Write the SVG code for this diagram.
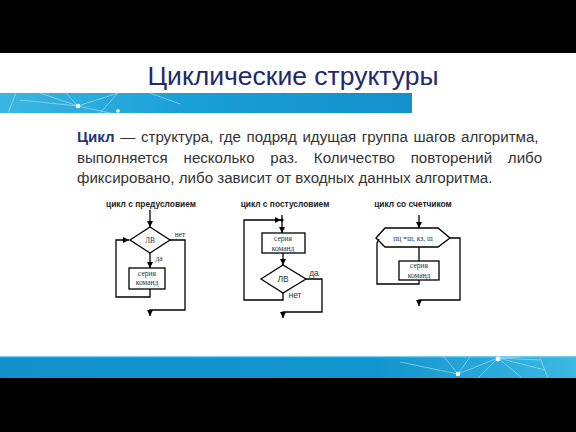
<svg xmlns="http://www.w3.org/2000/svg" width="576" height="432" viewBox="0 0 576 432">
<defs>
<linearGradient id="gTop" x1="0" y1="0" x2="1" y2="0">
<stop offset="0" stop-color="#3ab6e2"/>
<stop offset="0.45" stop-color="#1a9fd6"/>
<stop offset="1" stop-color="#1290cb"/>
</linearGradient>
<linearGradient id="gBot" x1="0" y1="0" x2="1" y2="0">
<stop offset="0" stop-color="#1290cb"/>
<stop offset="0.65" stop-color="#1194cd"/>
<stop offset="1" stop-color="#3cb8e3"/>
</linearGradient>
<marker id="ah" viewBox="0 0 10 10" refX="10" refY="5" markerWidth="6" markerHeight="6" markerUnits="userSpaceOnUse" orient="auto">
<path d="M0,0 L10,5 L0,10 Z" fill="#000"/>
</marker>
<style>
.lbl{font-family:"Liberation Sans",Arial,sans-serif;font-weight:bold;font-size:8.4px;fill:#222;text-anchor:middle}
.ser{font-family:"Liberation Serif","Times New Roman",serif;font-size:7.5px;fill:#333;text-anchor:middle}
.lv{font-family:"Liberation Sans",Arial,sans-serif;font-size:8.5px;fill:#333;text-anchor:middle}
.sh{fill:#fff;stroke:#000;stroke-width:1.3}
.ln{fill:none;stroke:#000;stroke-width:1.3}
.net{stroke:#bfe8f8;stroke-width:0.7;fill:none;opacity:0.8}
.para{font-family:"Liberation Sans",Arial,sans-serif;font-size:15.1px;fill:#333}
</style>
</defs>
<rect width="576" height="432" fill="#fff"/>
<rect x="0" y="0" width="576" height="53" fill="#000"/>
<rect x="0" y="378" width="576" height="54" fill="#000"/>

<!-- top band -->
<rect x="0" y="93" width="412" height="20" fill="url(#gTop)"/>
<g class="net">
<path d="M8,113 L16,93 M40,93 L78,106 L118,93 M78,106 L110,113 M66,93 L78,106 M118,93 L100,113 M150,93 L180,104 M20,100 L78,106"/>
</g>
<circle cx="78" cy="106" r="2.2" fill="#fff"/>
<circle cx="118" cy="111" r="1.8" fill="#fff"/>

<!-- bottom band -->
<rect x="0" y="356" width="576" height="22" fill="url(#gBot)"/>
<rect x="0" y="356" width="576" height="1.3" fill="#6fcdee"/>
<g class="net">
<path d="M400,362 L458,374 L498,358 L540,360 M444,357 L458,374 L470,357 M498,358 L478,378 M498,358 L522,378 M540,358 L548,378 M520,357 L498,358 M498,358 L545,370"/>
</g>
<circle cx="458" cy="374" r="2.2" fill="#fff"/>
<circle cx="498" cy="359" r="2.4" fill="#fff"/>

<!-- title -->
<text x="293" y="85" font-family="'Liberation Sans',Arial,sans-serif" font-size="26.5" fill="#1e2a6b" text-anchor="middle">Циклические структуры</text>

<!-- paragraph -->
<text class="para" x="77" y="142" word-spacing="1.4"><tspan font-weight="bold" fill="#1f3578">Цикл</tspan> — структура, где подряд идущая группа шагов алгоритма,</text>
<text class="para" x="77" y="163" word-spacing="11.6">выполняется несколько раз. Количество повторений либо</text>
<text class="para" x="77" y="183">фиксировано, либо зависит от входных данных алгоритма.</text>

<!-- diagram 1 -->
<text class="lbl" x="151" y="207">цикл с предусловием</text>
<g id="d1-cond">
<polygon class="sh" points="130,240 150,227 170,240 150,253"/>
<text class="ser" x="150" y="243" font-size="8.5">ЛВ</text>
</g>
<g id="d1-body">
<rect class="sh" x="129" y="268" width="36" height="21"/>
<text class="ser" x="147" y="276">серия</text>
<text class="ser" x="147" y="285">команд</text>
</g>
<text class="ser" x="180" y="237">нет</text>
<text class="ser" x="159" y="261">да</text>

<!-- diagram 2 -->
<text class="lbl" x="285" y="207">цикл с постусловием</text>
<g id="d2-body">
<rect class="sh" x="262" y="233" width="43" height="20"/>
<text class="ser" x="283" y="241">серия</text>
<text class="ser" x="283" y="251">команд</text>
</g>
<g id="d2-cond">
<polygon class="sh" points="261,279 283,265 306,279 283,293"/>
<text class="lv" x="283" y="282">ЛВ</text>
</g>
<text class="lv" x="314" y="276" font-size="7.5">да</text>
<text class="lv" x="295" y="298" font-size="7.5">нет</text>

<!-- diagram 3 -->
<text class="lbl" x="413" y="207">цикл со счетчиком</text>
<g id="d3-head">
<polygon class="sh" points="376,238 385,228 438,228 450,238 438,247 385,247"/>
<text class="ser" x="413" y="241" font-size="7">пц =ш, кз, ш</text>
</g>
<g id="d3-body">
<rect class="sh" x="399" y="261" width="40" height="19"/>
<text class="ser" x="419" y="268">серия</text>
<text class="ser" x="419" y="278">команд</text>
</g>

<!-- connectors -->
<g id="connectors">
<line class="ln" x1="150" y1="210" x2="150" y2="227" marker-end="url(#ah)"/>
<line class="ln" x1="150" y1="253" x2="150" y2="268" marker-end="url(#ah)"/>
<polyline class="ln" points="150,289 150,297 116,297 116,240 129,240" marker-end="url(#ah)"/>
<polyline class="ln" points="170,240 185,240 185,310 150,310 150,316" marker-end="url(#ah)"/>

<line class="ln" x1="282" y1="215" x2="282" y2="233" marker-end="url(#ah)"/>
<polyline class="ln" points="283,293 283,300 244,300 244,220 281,220" marker-end="url(#ah)"/>
<circle cx="282" cy="220" r="1.6" fill="#000"/>
<line class="ln" x1="283" y1="253" x2="283" y2="265" marker-end="url(#ah)"/>
<polyline class="ln" points="306,279 322,279 322,312 283,312 283,318" marker-end="url(#ah)"/>

<line class="ln" x1="419" y1="215" x2="419" y2="228" marker-end="url(#ah)"/>
<line class="ln" x1="419" y1="247" x2="419" y2="261"/>
<polyline class="ln" points="419,280 419,284 377,284 377,243 379,239"/>
<polyline class="ln" points="450,238 460,238 460,300 419,300 419,306" marker-end="url(#ah)"/>
</g>
</svg>
